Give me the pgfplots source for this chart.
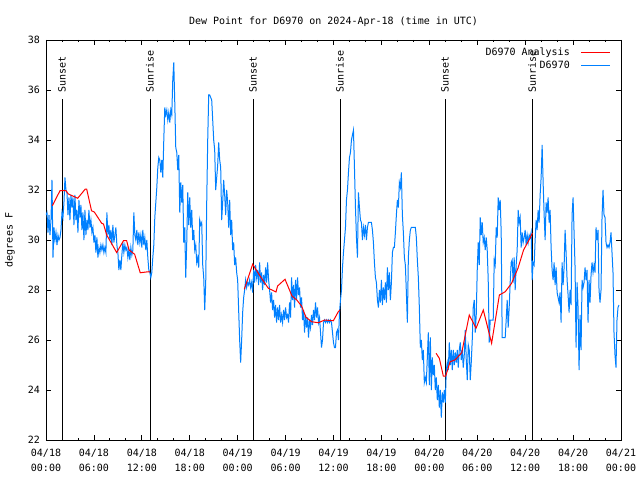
\documentclass[border=0pt]{standalone}
\usepackage{pgfplots}
\pgfplotsset{compat=1.18}
\usepackage{fontspec}
\setmainfont{DejaVu Sans Mono}
\definecolor{dpblue}{RGB}{0,128,255}
\definecolor{dpred}{RGB}{255,0,0}
\begin{document}
\fontsize{10}{12}\selectfont
\begin{tikzpicture}
\useasboundingbox (-46pt,-40pt) rectangle (594pt,440pt);
\begin{axis}[
  at={(0pt,0pt)}, anchor=south west,
  scale only axis, width=575pt, height=400pt,
  xmin=0, xmax=72, ymin=22, ymax=38,
  xtick={0,6,...,72},
  xticklabels={{04/18\\00:00},{04/18\\06:00},{04/18\\12:00},{04/18\\18:00},{04/19\\00:00},{04/19\\06:00},{04/19\\12:00},{04/19\\18:00},{04/20\\00:00},{04/20\\06:00},{04/20\\12:00},{04/20\\18:00},{04/21\\00:00}},
  xticklabel style={align=center, font=\fontsize{10}{15}\selectfont, inner sep=0pt, yshift=-9pt},
  minor x tick num=2,
  ytick={22,24,...,38},
  yticklabel style={inner sep=0pt, xshift=-6pt},
  /pgf/number format/assume math mode=true,
  tick align=inside,
  major tick length=5pt, minor tick length=2.5pt,
  every tick/.style={black, line width=0.8pt},
  axis line style={line width=0.8pt},
  title={Dew Point for D6970 on 2024-Apr-18 (time in UTC)},
  title style={yshift=4pt},
  ylabel={degrees F},
  ylabel style={at={(rel axis cs:0,0.5)}, anchor=center, yshift=36pt},
  legend style={draw=none, fill=none, at={(rel axis cs:1,1)}, anchor=north east, xshift=-7pt, yshift=-4pt, row sep=0pt, font=\fontsize{10}{12}\selectfont, /tikz/every odd column/.append style={column sep=9pt}},
  legend cell align=right,
  legend plot pos=right,
  legend image code/.code={\draw[#1] (0pt,0pt) -- (29pt,0pt);},
]
% sunrise / sunset markers
\addplot[black, line width=0.8pt, forget plot] coordinates {(2.0,22) (2.0,35.64)};
\addplot[black, line width=0.8pt, forget plot] coordinates {(13.02,22) (13.02,35.64)};
\addplot[black, line width=0.8pt, forget plot] coordinates {(25.92,22) (25.92,35.64)};
\addplot[black, line width=0.8pt, forget plot] coordinates {(36.81,22) (36.81,35.64)};
\addplot[black, line width=0.8pt, forget plot] coordinates {(49.96,22) (49.96,35.64)};
\addplot[black, line width=0.8pt, forget plot] coordinates {(60.86,22) (60.86,35.64)};
\node[rotate=90, anchor=west, inner sep=0pt] at (axis cs:2.0,35.9) {Sunset};
\node[rotate=90, anchor=west, inner sep=0pt] at (axis cs:13.02,35.9) {Sunrise};
\node[rotate=90, anchor=west, inner sep=0pt] at (axis cs:25.92,35.9) {Sunset};
\node[rotate=90, anchor=west, inner sep=0pt] at (axis cs:36.81,35.9) {Sunrise};
\node[rotate=90, anchor=west, inner sep=0pt] at (axis cs:49.96,35.9) {Sunset};
\node[rotate=90, anchor=west, inner sep=0pt] at (axis cs:60.86,35.9) {Sunrise};
% observations (sample index at 7.5-minute spacing, value)
\addplot[dpblue, line width=1pt, forget plot] table[row sep=\\, x expr=\thisrow{i}/8, y=v] {
i v\\
0 31.0\\ 1 31.1\\ 2 30.3\\ 3 31.0\\ 4 30.2\\ 5 30.8\\ 6 32.4\\ 7 29.3\\ 8 30.5\\ 9 30.0\\
10 30.3\\ 11 29.8\\ 12 30.2\\ 13 30.0\\ 14 30.1\\ 15 30.4\\ 16 31.1\\ 17 30.9\\ 18 31.5\\ 19 32.5\\
20 32.0\\ 21 31.9\\ 22 31.0\\ 23 31.7\\ 24 30.8\\ 25 31.8\\ 26 31.3\\ 27 31.7\\ 28 30.6\\ 29 31.8\\
30 30.8\\ 31 31.2\\ 32 30.3\\ 33 31.6\\ 34 30.9\\ 35 31.4\\ 36 30.4\\ 37 31.1\\ 38 30.0\\ 39 31.2\\
40 30.2\\ 41 30.8\\ 42 30.4\\ 43 31.2\\ 44 30.5\\ 45 30.8\\ 46 30.3\\ 47 30.5\\ 48 29.9\\ 49 30.2\\
50 29.5\\ 51 30.1\\ 52 29.3\\ 53 29.7\\ 54 29.5\\ 55 29.8\\ 56 29.6\\ 57 29.8\\ 58 29.5\\ 59 29.7\\
60 29.5\\ 61 31.1\\ 62 30.2\\ 63 30.6\\ 64 30.0\\ 65 30.4\\ 66 29.8\\ 67 30.6\\ 68 29.9\\ 69 30.2\\
70 30.5\\ 71 29.8\\ 72 29.5\\ 73 28.8\\ 74 29.2\\ 75 28.8\\ 76 29.4\\ 77 29.9\\ 78 29.5\\ 79 29.8\\
80 29.6\\ 81 29.7\\ 82 29.3\\ 83 29.6\\ 84 29.2\\ 85 29.7\\ 86 29.4\\ 87 29.6\\ 88 31.1\\ 89 30.2\\
90 30.0\\ 91 30.4\\ 92 29.8\\ 93 30.3\\ 94 29.9\\ 95 30.2\\ 96 29.7\\ 97 30.4\\ 98 29.8\\ 99 30.1\\
100 29.6\\ 101 30.0\\ 102 29.3\\ 103 28.8\\ 104 28.7\\ 105 28.5\\ 106 28.7\\ 107 29.3\\ 108 29.8\\ 109 30.9\\
110 31.5\\ 111 32.1\\ 112 32.9\\ 113 33.3\\ 114 33.2\\ 115 32.7\\ 116 33.2\\ 117 32.5\\ 118 34.0\\ 119 35.3\\
120 35.0\\ 121 35.2\\ 122 34.8\\ 123 35.1\\ 124 34.7\\ 125 35.2\\ 126 35.0\\ 127 36.4\\ 128 37.1\\ 129 35.5\\
130 33.7\\ 131 33.5\\ 132 32.8\\ 133 33.4\\ 134 31.1\\ 135 32.3\\ 136 31.5\\ 137 32.2\\ 138 29.9\\ 139 30.5\\
140 28.5\\ 141 29.9\\ 142 31.9\\ 143 30.6\\ 144 31.7\\ 145 30.5\\ 146 31.2\\ 147 30.0\\ 148 30.4\\ 149 29.6\\
150 29.8\\ 151 29.1\\ 152 29.3\\ 153 28.9\\ 154 30.8\\ 155 30.6\\ 156 30.7\\ 157 29.0\\ 158 28.5\\ 159 27.2\\
160 28.3\\ 161 31.5\\ 162 34.0\\ 163 35.8\\ 164 35.8\\ 165 35.7\\ 166 35.6\\ 167 34.8\\ 168 34.0\\ 169 33.6\\
170 32.0\\ 171 32.5\\ 172 33.0\\ 173 33.9\\ 174 33.2\\ 175 32.9\\ 176 30.8\\ 177 31.5\\ 178 32.4\\ 179 31.8\\
180 31.0\\ 181 32.0\\ 182 31.5\\ 183 30.5\\ 184 31.6\\ 185 30.2\\ 186 30.8\\ 187 29.6\\ 188 29.9\\ 189 29.0\\
190 29.3\\ 191 28.7\\ 192 28.4\\ 193 27.2\\ 194 26.0\\ 195 25.1\\ 196 26.0\\ 197 27.1\\ 198 27.7\\ 199 28.0\\
200 28.4\\ 201 28.1\\ 202 28.3\\ 203 28.2\\ 204 28.4\\ 205 28.1\\ 206 28.3\\ 207 27.9\\ 208 28.8\\ 209 28.3\\
210 29.0\\ 211 28.5\\ 212 28.8\\ 213 28.2\\ 214 29.1\\ 215 28.3\\ 216 28.7\\ 217 28.0\\ 218 28.6\\ 219 28.2\\
220 28.9\\ 221 28.3\\ 222 29.1\\ 223 28.4\\ 224 28.0\\ 225 27.5\\ 226 27.9\\ 227 27.2\\ 228 27.6\\ 229 26.9\\
230 27.4\\ 231 26.7\\ 232 27.3\\ 233 26.8\\ 234 27.4\\ 235 26.7\\ 236 27.0\\ 237 26.7\\ 238 27.2\\ 239 26.8\\
240 27.3\\ 241 26.9\\ 242 27.0\\ 243 26.7\\ 244 27.5\\ 245 26.9\\ 246 28.5\\ 247 27.6\\ 248 28.2\\ 249 27.3\\
250 28.4\\ 251 27.6\\ 252 28.5\\ 253 27.8\\ 254 28.1\\ 255 27.3\\ 256 27.7\\ 257 26.8\\ 258 27.2\\ 259 26.3\\
260 27.0\\ 261 26.5\\ 262 26.9\\ 263 26.1\\ 264 26.8\\ 265 26.5\\ 266 27.0\\ 267 26.6\\ 268 27.2\\ 269 26.8\\
270 27.5\\ 271 26.9\\ 272 27.3\\ 273 26.7\\ 274 26.9\\ 275 26.3\\ 276 25.7\\ 277 26.0\\ 278 26.7\\ 279 26.8\\
280 26.7\\ 281 26.8\\ 282 26.7\\ 283 26.8\\ 284 26.7\\ 285 26.8\\ 286 26.7\\ 287 26.3\\ 288 25.9\\ 289 25.7\\
290 25.7\\ 291 26.3\\ 292 26.4\\ 293 26.0\\ 294 27.1\\ 295 27.6\\ 296 28.0\\ 297 28.9\\ 298 29.5\\ 299 30.0\\
300 30.5\\ 301 31.6\\ 302 32.0\\ 303 32.7\\ 304 33.3\\ 305 33.5\\ 306 34.0\\ 307 34.2\\ 308 34.4\\ 309 32.9\\
310 31.3\\ 311 30.1\\ 312 29.3\\ 313 31.9\\ 314 31.3\\ 315 30.8\\ 316 30.7\\ 317 30.0\\ 318 30.5\\ 319 30.2\\
320 30.6\\ 321 30.0\\ 322 30.5\\ 323 30.7\\ 324 30.7\\ 325 30.7\\ 326 30.7\\ 327 30.4\\ 328 29.9\\ 329 29.1\\
330 28.5\\ 331 28.3\\ 332 27.6\\ 333 27.3\\ 334 28.0\\ 335 27.5\\ 336 28.4\\ 337 27.4\\ 338 28.1\\ 339 27.6\\
340 28.3\\ 341 27.5\\ 342 28.9\\ 343 28.0\\ 344 28.7\\ 345 27.6\\ 346 28.3\\ 347 29.5\\ 348 29.7\\ 349 29.7\\
350 30.3\\ 351 31.0\\ 352 31.6\\ 353 31.3\\ 354 32.3\\ 355 32.1\\ 356 32.7\\ 357 31.0\\ 358 30.3\\ 359 29.3\\
360 29.0\\ 361 27.9\\ 362 26.7\\ 363 29.3\\ 364 30.0\\ 365 30.4\\ 366 30.5\\ 367 30.5\\ 368 30.5\\ 369 30.5\\
370 30.5\\ 371 30.1\\ 372 29.2\\ 373 28.5\\ 374 27.3\\ 375 25.7\\ 376 26.0\\ 377 25.2\\ 378 25.6\\ 379 24.3\\
380 24.5\\ 381 24.3\\ 382 25.3\\ 383 26.3\\ 384 24.2\\ 385 26.1\\ 386 24.0\\ 387 25.3\\ 388 24.6\\ 389 25.0\\
390 24.0\\ 391 24.5\\ 392 23.6\\ 393 24.2\\ 394 23.3\\ 395 24.0\\ 396 22.9\\ 397 23.9\\ 398 23.5\\ 399 24.0\\
400 23.5\\ 401 24.8\\ 402 25.1\\ 403 24.8\\ 404 25.9\\ 405 25.0\\ 406 25.6\\ 407 24.8\\ 408 25.6\\ 409 25.0\\
410 25.5\\ 411 25.1\\ 412 25.6\\ 413 24.9\\ 414 25.6\\ 415 25.9\\ 416 25.2\\ 417 25.6\\ 418 24.9\\ 419 25.4\\
420 26.4\\ 421 25.2\\ 422 24.4\\ 423 25.8\\ 424 25.6\\ 425 24.4\\ 426 25.1\\ 427 26.0\\ 428 27.3\\ 429 27.6\\
430 26.3\\ 431 27.0\\ 432 28.8\\ 433 29.9\\ 434 29.0\\ 435 30.9\\ 436 30.2\\ 437 30.7\\ 438 29.9\\ 439 30.1\\
440 29.6\\ 441 30.1\\ 442 29.6\\ 443 28.4\\ 444 25.9\\ 445 26.8\\ 446 26.8\\ 447 26.8\\ 448 26.8\\ 449 29.2\\
450 29.0\\ 451 30.5\\ 452 30.1\\ 453 31.7\\ 454 31.2\\ 455 31.6\\ 456 30.3\\ 457 26.1\\ 458 26.1\\ 459 26.1\\
460 26.1\\ 461 26.8\\ 462 27.6\\ 463 26.5\\ 464 27.3\\ 465 28.3\\ 466 29.1\\ 467 29.2\\ 468 28.3\\ 469 29.3\\
470 28.0\\ 471 29.0\\ 472 29.6\\ 473 31.2\\ 474 30.7\\ 475 30.9\\ 476 29.7\\ 477 30.3\\ 478 29.9\\ 479 30.1\\
480 30.4\\ 481 29.8\\ 482 30.2\\ 483 29.9\\ 484 30.2\\ 485 30.1\\ 486 30.3\\ 487 28.4\\ 488 29.1\\ 489 29.0\\
490 30.0\\ 491 30.8\\ 492 30.4\\ 493 31.2\\ 494 30.7\\ 495 31.8\\ 496 32.5\\ 497 33.8\\ 498 32.3\\ 499 31.0\\
500 30.0\\ 501 31.5\\ 502 31.1\\ 503 31.7\\ 504 30.7\\ 505 31.2\\ 506 29.7\\ 507 28.8\\ 508 28.4\\ 509 29.1\\
510 28.2\\ 511 28.9\\ 512 27.9\\ 513 27.7\\ 514 27.5\\ 515 27.9\\ 516 26.7\\ 517 29.1\\ 518 28.2\\ 519 28.9\\
520 30.4\\ 521 29.5\\ 522 28.4\\ 523 27.8\\ 524 27.1\\ 525 28.0\\ 526 27.4\\ 527 31.0\\ 528 31.7\\ 529 30.3\\
530 28.9\\ 531 25.7\\ 532 28.3\\ 533 27.3\\ 534 24.8\\ 535 27.0\\ 536 25.6\\ 537 28.4\\ 538 28.1\\ 539 28.3\\
540 28.9\\ 541 28.4\\ 542 28.8\\ 543 26.7\\ 544 28.4\\ 545 27.5\\ 546 28.6\\ 547 29.1\\ 548 28.7\\ 549 29.0\\
550 28.7\\ 551 30.5\\ 552 30.0\\ 553 30.4\\ 554 28.0\\ 555 27.5\\ 556 28.0\\ 557 30.9\\ 558 32.0\\ 559 31.0\\
560 30.9\\ 561 29.9\\ 562 29.7\\ 563 29.8\\ 564 29.7\\ 565 29.9\\ 566 30.3\\ 567 29.5\\ 568 28.7\\ 569 26.3\\
570 25.4\\ 571 24.9\\ 572 26.8\\ 573 27.3\\ 574 27.4\\
};
% analysis
\addplot[dpred, line width=1pt, forget plot] coordinates {
(0.79,31.37) (1.75,31.97) (2.5,31.97) (2.8,31.84) (3.97,31.67) (4.9,32.03) (5.1,32.03) (5.7,31.17) (6.05,31.12) (6.97,30.67) (7.2,30.64) (7.6,30.2) (8.85,29.5) (9.7,29.97) (10.1,29.97) (10.4,29.6) (11.1,29.43) (11.8,28.69) (12.8,28.73) (13.0,28.72)};
\addplot[dpred, line width=1pt, forget plot] coordinates {
(24.83,28.03) (25.88,29.03) (26.8,28.56) (27.84,28.07) (28.8,27.92) (29.0,28.16) (29.93,28.43) (30.8,27.76) (31.4,27.6) (32.0,27.36) (32.55,26.91) (33.27,26.73) (34.1,26.69) (34.9,26.8) (35.98,26.77) (36.6,27.13) (36.8,27.2)};
\addplot[dpred, line width=1pt, forget plot] coordinates {
(48.84,25.47) (49.25,25.27) (49.75,24.56) (50.05,24.56) (50.6,25.13) (51.2,25.2) (52.06,25.49) (52.5,26.2) (53.0,27.0) (53.85,26.47) (54.76,27.2) (55.8,25.87) (56.77,27.8) (57.5,27.93) (58.3,28.27) (59.1,28.87) (59.8,29.6) (60.6,30.07) (60.9,30.27)};
\addlegendimage{dpred, line width=1pt}
\addlegendentry{D6970 Analysis}
\addlegendimage{dpblue, line width=1pt}
\addlegendentry{D6970}
\end{axis}
\end{tikzpicture}
\end{document}
